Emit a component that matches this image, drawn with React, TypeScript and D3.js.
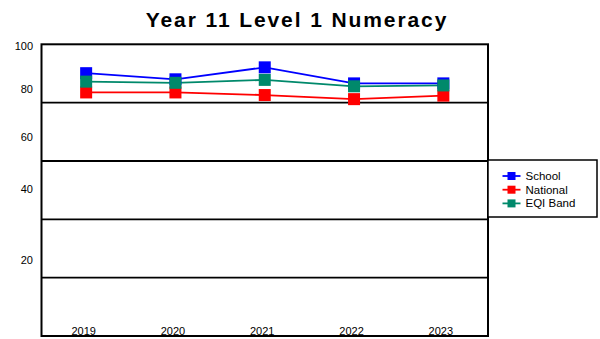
import React from "react";
import * as d3 from "d3";

// Results by year (% achieving)
const years = ["2019", "2020", "2021", "2022", "2023"];
const school = [90.1, 88.0, 92.1, 86.6, 86.6];
const national = [83.5, 83.5, 82.6, 81.2, 82.4];
const eqiBand = [87.2, 86.8, 87.8, 85.6, 85.9];
const yTickLabels = [100, 80, 60, 40, 20];
const gridValues = [80, 60, 40, 20];

const series = [
  { name: "School", values: school, color: "#0000ff" },
  { name: "National", values: national, color: "#ff0000" },
  { name: "EQI Band", values: eqiBand, color: "#00896b" },
];
// draw order for markers: school, national, then EQI band on top
const drawOrder = [0, 1, 2];

const W = 600;
const H = 339;
const plot = { left: 41.5, right: 488, top: 44.3, bottom: 336 };
// vertical placement of the axis labels, as a fraction of plot height
const labelFrac = d3
  .scaleLinear()
  .domain([100, 80, 60, 40, 20])
  .range([0.006, 0.154, 0.317, 0.496, 0.739]);

const FONT = "'Liberation Sans', Arial, sans-serif";

export default function App() {
  const x = d3
    .scalePoint<string>()
    .domain(years)
    .range([plot.left, plot.right])
    .padding(0.5);
  const y = d3.scaleLinear().domain([0, 100]).range([plot.bottom, plot.top]);
  const line = d3
    .line<number>()
    .x((_, i) => x(years[i]) as number)
    .y((d) => y(d));
  const ph = plot.bottom - plot.top;
  const m = 12;

  const legend = { x: 488, y: 160, w: 109, h: 57 };

  return (
    <svg
      width={W}
      height={H}
      style={{ position: "absolute", left: 0, top: 0, background: "#fff" }}
      fontFamily={FONT}
    >
      <rect x={0} y={0} width={W} height={H} fill="#fff" />
      <text
        x={297}
        y={26.5}
        textAnchor="middle"
        fontSize={21}
        fontWeight="bold"
        letterSpacing={1.9}
        fill="#000"
      >
        Year 11 Level 1 Numeracy
      </text>

      {/* horizontal grid lines */}
      {gridValues.map((v) => (
        <line
          key={v}
          x1={plot.left}
          x2={plot.right}
          y1={y(v)}
          y2={y(v)}
          stroke="#000"
          strokeWidth={1.8}
        />
      ))}

      {/* y axis labels */}
      {yTickLabels.map((v) => (
        <text
          key={v}
          x={33}
          y={plot.top + labelFrac(v) * ph}
          dy="0.35em"
          textAnchor="end"
          fontSize={11}
          fill="#000"
        >
          {v}
        </text>
      ))}

      {/* x axis labels */}
      {years.map((yr) => (
        <text
          key={yr}
          x={(x(yr) as number) - 2.5}
          y={334.5}
          textAnchor="middle"
          fontSize={11}
          fill="#000"
        >
          {yr}
        </text>
      ))}

      {/* series lines */}
      {series.map((s) => (
        <path
          key={s.name}
          d={line(s.values) || ""}
          fill="none"
          stroke={s.color}
          strokeWidth={1.8}
        />
      ))}

      {/* markers */}
      {drawOrder.map((k) =>
        series[k].values.map((v, i) => (
          <rect
            key={series[k].name + i}
            x={(x(years[i]) as number) - m / 2}
            y={y(v) - m / 2}
            width={m}
            height={m}
            fill={series[k].color}
          />
        ))
      )}

      {/* plot frame */}
      <rect
        x={plot.left}
        y={plot.top}
        width={plot.right - plot.left}
        height={plot.bottom - plot.top}
        fill="none"
        stroke="#000"
        strokeWidth={2}
      />

      {/* legend */}
      <rect
        x={legend.x}
        y={legend.y}
        width={legend.w}
        height={legend.h}
        fill="#fff"
        stroke="#000"
        strokeWidth={1.5}
      />
      {series.map((s, i) => {
        const cy = 176 + i * 13.7;
        return (
          <g key={s.name}>
            <line
              x1={502.5}
              x2={520.5}
              y1={cy}
              y2={cy}
              stroke={s.color}
              strokeWidth={1.8}
            />
            <rect x={507.5} y={cy - 4} width={8} height={8} fill={s.color} />
            <text x={525.5} y={cy} dy="0.35em" fontSize={11.5} fill="#000">
              {s.name}
            </text>
          </g>
        );
      })}
    </svg>
  );
}
